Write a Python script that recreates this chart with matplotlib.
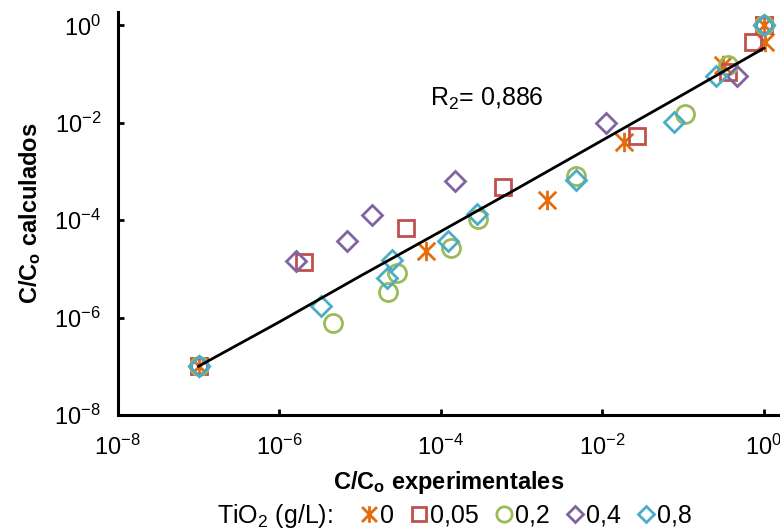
import matplotlib
matplotlib.use("Agg")
import matplotlib.pyplot as plt
from matplotlib.path import Path
from matplotlib.lines import Line2D
import numpy as np

plt.rcParams['font.family'] = ['Liberation Sans', 'DejaVu Sans']
plt.rcParams['mathtext.fontset'] = 'custom'
plt.rcParams['mathtext.rm'] = 'Liberation Sans'
plt.rcParams['mathtext.bf'] = 'Liberation Sans:bold'
plt.rcParams['mathtext.it'] = 'Liberation Sans:italic'
plt.rcParams['axes.unicode_minus'] = False

x_0 = [-7.0, -4.18, -2.69, -1.73, -0.51, 0.02, 0.0]
y_0 = [-7.0, -4.64, -3.59, -2.40, -0.82, -0.35, 0.0]

x_005 = [-7.0, -5.70, -4.43, -3.23, -1.57, -0.44, -0.14, 0.0]
y_005 = [-7.0, -4.86, -4.16, -3.32, -2.28, -0.96, -0.35, 0.0]

x_02 = [-7.0, -5.33, -4.65, -4.54, -3.88, -3.54, -2.32, -0.98, -0.44, 0.0]
y_02 = [-7.0, -6.11, -5.48, -5.09, -4.57, -3.98, -3.10, -1.81, -0.82, 0.0]

x_04 = [-7.0, -5.79, -5.16, -4.85, -3.82, -1.95, -0.33, 0.0]
y_04 = [-7.0, -4.84, -4.43, -3.90, -3.20, -2.01, -1.05, 0.0]

x_08 = [-7.0, -5.48, -4.67, -4.60, -3.91, -3.55, -2.33, -1.11, -0.59, 0.0]
y_08 = [-7.0, -5.76, -5.19, -4.82, -4.43, -3.88, -3.18, -1.99, -1.03, 0.0]

# model curve
x_fit = [-7.0, -6.0, -5.0, -4.0, -3.0, -2.0, -1.0, 0.0]
y_fit = [-7.0, -6.09, -5.15, -4.23, -3.30, -2.36, -1.42, -0.47]

labels = ['0', '0,05', '0,2', '0,4', '0,8']
colors = ['#E46C0A', '#C0504D', '#9BBB59', '#8064A2', '#4BACC6']

# Excel style star: vertical bar plus an X
star = Path([(0, -1), (0, 1), (-0.9, -0.9), (0.9, 0.9), (-0.9, 0.9), (0.9, -0.9)],
            [Path.MOVETO, Path.LINETO, Path.MOVETO, Path.LINETO, Path.MOVETO, Path.LINETO])
markers = [star, 's', 'o', 'D', 'D']
msizes = [14, 12, 13, 10, 10]

fig = plt.figure(figsize=(7.8, 5.31), dpi=100)
ax = fig.add_axes([0.151, 0.2185, 0.849, 0.7585])

series = [(x_0, y_0), (x_005, y_005), (x_02, y_02), (x_04, y_04), (x_08, y_08)]
for (xs, ys), c, m, ms in zip(series, colors, markers, msizes):
    ax.plot(10 ** np.array(xs), 10 ** np.array(ys), linestyle='none', marker=m,
            markersize=ms, markerfacecolor='none', markeredgecolor=c,
            markeredgewidth=2.0, zorder=3)

ax.plot(10 ** np.array(x_fit), 10 ** np.array(y_fit), color='black', lw=2.0, zorder=4)

ax.set_xscale('log')
ax.set_yscale('log')
ax.set_xlim(1e-8, 10 ** 0.2)
ax.set_ylim(1e-8, 10 ** 0.27)
ax.set_xticks([1e-8, 1e-6, 1e-4, 1e-2, 1e0])
ax.set_yticks([1e-8, 1e-6, 1e-4, 1e-2, 1e0])
ax.minorticks_off()
ax.tick_params(direction='in', length=4, width=2, labelsize=17)
ax.tick_params(axis='x', pad=14)
ax.tick_params(axis='y', pad=12)

for s in ['top', 'right']:
    ax.spines[s].set_visible(False)
for s in ['left', 'bottom']:
    ax.spines[s].set_linewidth(2.2)

ax.set_xlabel(r'C/C$_{\mathbf{o}}$ experimentales', fontsize=17, fontweight='bold', labelpad=7)
ax.set_ylabel(r'C/C$_{\mathbf{o}}$ calculados', fontsize=17, fontweight='bold', labelpad=8)

ax.text(10 ** -4.13, 10 ** -1.5, r'R$_2$= 0,886', fontsize=18, va='center', ha='left')

handles = [Line2D([], [], linestyle='none', marker=m, markersize=ms * 0.85,
                  markerfacecolor='none', markeredgecolor=c, markeredgewidth=2.0)
           for c, m, ms in zip(colors, markers, msizes)]
fig.legend(handles, labels, loc='center', bbox_to_anchor=(0.675, 1 - 516 / 531), ncol=5,
           frameon=False, fontsize=18, handlelength=0.6, handletextpad=0.15,
           columnspacing=0.7, borderpad=0)
fig.text(217 / 780, 1 - 516 / 531, r'TiO$_2$ (g/L):', fontsize=18, ha='left', va='center')

fig.savefig('out.png', dpi=100)
